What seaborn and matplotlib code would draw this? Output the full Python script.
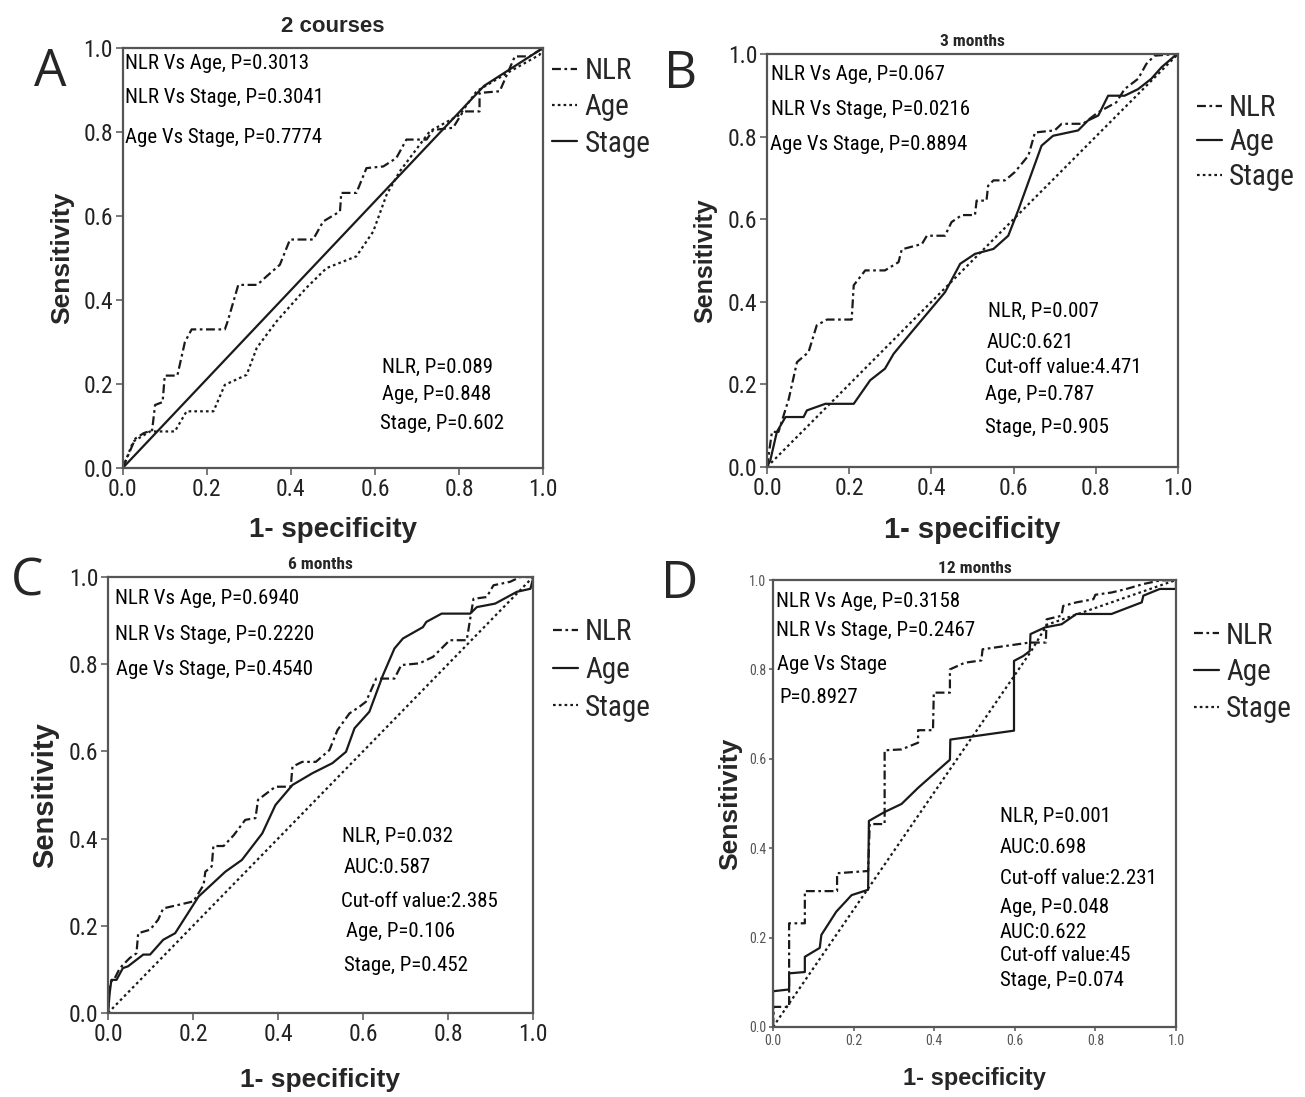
import numpy as np
import pandas as pd
import matplotlib
matplotlib.use("Agg")
import matplotlib.pyplot as plt
import seaborn as sns
from matplotlib import font_manager as fm

# ---------------- data ----------------
# Panel A: 2 courses
a_nlr_x = [0, 0.03, 0.05, 0.07, 0.077, 0.095, 0.10, 0.13, 0.148, 0.164, 0.243, 0.25, 0.275, 0.32, 0.342, 0.374, 0.398, 0.453, 0.477, 0.517, 0.52, 0.556, 0.58, 0.62, 0.651, 0.675, 0.723, 0.739, 0.786, 0.81, 0.849, 0.849, 0.897, 0.933, 0.968, 1.0]
a_nlr_y = [0, 0.07, 0.083, 0.09, 0.15, 0.157, 0.22, 0.22, 0.30, 0.33, 0.33, 0.35, 0.436, 0.436, 0.456, 0.484, 0.544, 0.544, 0.587, 0.611, 0.655, 0.655, 0.714, 0.718, 0.738, 0.782, 0.782, 0.805, 0.81, 0.849, 0.849, 0.893, 0.897, 0.98, 0.98, 1.0]
a_age_x = [0, 0.025, 0.065, 0.124, 0.152, 0.216, 0.243, 0.295, 0.319, 0.366, 0.437, 0.485, 0.556, 0.596, 0.628, 0.659, 0.731, 0.802, 0.842, 0.921, 0.992, 1.0]
a_age_y = [0, 0.063, 0.087, 0.087, 0.135, 0.135, 0.198, 0.222, 0.286, 0.349, 0.429, 0.476, 0.504, 0.563, 0.651, 0.706, 0.802, 0.841, 0.897, 0.944, 0.984, 1.0]
a_stage_x = [0, 0.86, 1.0]
a_stage_y = [0, 0.91, 1.0]

# Panel B: 3 months
b_nlr_x = [0, 0.012, 0.028, 0.053, 0.073, 0.101, 0.121, 0.146, 0.206, 0.211, 0.239, 0.287, 0.32, 0.328, 0.377, 0.389, 0.433, 0.449, 0.474, 0.506, 0.51, 0.534, 0.538, 0.551, 0.579, 0.603, 0.636, 0.652, 0.70, 0.717, 0.769, 0.806, 0.85, 0.87, 0.903, 0.923, 0.943, 1.0]
b_nlr_y = [0, 0.085, 0.085, 0.165, 0.254, 0.278, 0.343, 0.357, 0.357, 0.44, 0.476, 0.476, 0.496, 0.527, 0.54, 0.56, 0.56, 0.593, 0.61, 0.61, 0.645, 0.645, 0.681, 0.694, 0.694, 0.714, 0.754, 0.81, 0.815, 0.831, 0.831, 0.859, 0.883, 0.915, 0.94, 0.976, 0.996, 1.0]
b_age_x = [0, 0.008, 0.024, 0.045, 0.089, 0.097, 0.142, 0.211, 0.251, 0.287, 0.308, 0.352, 0.433, 0.47, 0.506, 0.551, 0.587, 0.611, 0.668, 0.696, 0.757, 0.781, 0.806, 0.83, 0.87, 0.903, 0.935, 0.96, 0.988, 1.0]
b_age_y = [0, 0.016, 0.085, 0.121, 0.121, 0.137, 0.153, 0.153, 0.21, 0.238, 0.274, 0.327, 0.423, 0.492, 0.516, 0.528, 0.56, 0.621, 0.778, 0.802, 0.815, 0.839, 0.851, 0.899, 0.899, 0.915, 0.94, 0.968, 0.992, 1.0]
b_stage_x = [0, 1.0]
b_stage_y = [0, 1.0]

# Panel C: 6 months
c_nlr_x = [0, 0.004, 0.016, 0.028, 0.051, 0.067, 0.071, 0.099, 0.118, 0.13, 0.166, 0.201, 0.213, 0.225, 0.229, 0.244, 0.248, 0.272, 0.296, 0.323, 0.347, 0.353, 0.394, 0.43, 0.434, 0.457, 0.489, 0.521, 0.54, 0.568, 0.591, 0.607, 0.631, 0.674, 0.69, 0.733, 0.765, 0.804, 0.844, 0.86, 0.891, 0.907, 0.946, 0.97, 1.0]
c_nlr_y = [0, 0.069, 0.08, 0.103, 0.126, 0.137, 0.183, 0.191, 0.214, 0.24, 0.248, 0.256, 0.275, 0.294, 0.324, 0.336, 0.383, 0.383, 0.408, 0.443, 0.447, 0.489, 0.519, 0.519, 0.565, 0.576, 0.576, 0.603, 0.649, 0.687, 0.702, 0.714, 0.767, 0.767, 0.798, 0.802, 0.817, 0.855, 0.855, 0.95, 0.954, 0.981, 0.989, 1.0, 1.0]
c_age_x = [0, 0.004, 0.008, 0.02, 0.035, 0.047, 0.083, 0.099, 0.13, 0.158, 0.213, 0.276, 0.315, 0.363, 0.394, 0.434, 0.481, 0.528, 0.56, 0.58, 0.615, 0.647, 0.674, 0.694, 0.741, 0.749, 0.785, 0.852, 0.868, 0.911, 0.962, 0.994, 1.0, 1.0]
c_age_y = [0, 0.046, 0.076, 0.076, 0.103, 0.107, 0.134, 0.134, 0.168, 0.183, 0.267, 0.324, 0.351, 0.412, 0.477, 0.523, 0.55, 0.573, 0.599, 0.653, 0.691, 0.775, 0.836, 0.859, 0.885, 0.897, 0.916, 0.916, 0.931, 0.939, 0.966, 0.973, 0.996, 1.0]
c_stage_x = [0, 1.0]
c_stage_y = [0, 1.0]

# Panel D: 12 months
d_nlr_x = [0, 0.002, 0.04, 0.04, 0.079, 0.079, 0.159, 0.159, 0.236, 0.24, 0.277, 0.277, 0.319, 0.36, 0.36, 0.397, 0.399, 0.439, 0.439, 0.476, 0.517, 0.52, 0.636, 0.677, 0.679, 0.716, 0.72, 0.753, 0.795, 0.80, 0.84, 0.877, 0.919, 0.96, 1.0]
d_nlr_y = [0, 0.045, 0.045, 0.232, 0.232, 0.304, 0.304, 0.344, 0.349, 0.454, 0.454, 0.619, 0.621, 0.636, 0.664, 0.664, 0.748, 0.748, 0.80, 0.815, 0.82, 0.845, 0.86, 0.86, 0.912, 0.92, 0.942, 0.95, 0.957, 0.967, 0.972, 0.98, 0.991, 0.999, 1.0]
d_age_x = [0, 0, 0.04, 0.04, 0.079, 0.079, 0.116, 0.12, 0.157, 0.195, 0.236, 0.238, 0.277, 0.319, 0.36, 0.439, 0.44, 0.598, 0.598, 0.621, 0.637, 0.639, 0.675, 0.716, 0.753, 0.84, 0.915, 0.919, 0.96, 1.0, 1.0]
d_age_y = [0, 0.08, 0.084, 0.12, 0.123, 0.157, 0.177, 0.206, 0.258, 0.295, 0.307, 0.461, 0.481, 0.499, 0.535, 0.598, 0.643, 0.663, 0.819, 0.83, 0.841, 0.879, 0.894, 0.901, 0.924, 0.924, 0.95, 0.965, 0.98, 0.98, 1.0]
d_stage_x = [0, 0.64, 0.68, 1.0]
d_stage_y = [0, 0.84, 0.90, 1.0]

series_names = ["NLR", "Age", "Stage"]
panel_letters = ["A", "B", "C", "D"]
panel_titles = ["2 courses", "3 months", "6 months", "12 months"]
tick_values = [0.0, 0.2, 0.4, 0.6, 0.8, 1.0]
tick_labels = ["0.0", "0.2", "0.4", "0.6", "0.8", "1.0"]

a_top_text = ["NLR Vs Age, P=0.3013", "NLR Vs Stage, P=0.3041", "Age Vs Stage, P=0.7774"]
a_bottom_text = ["NLR, P=0.089", "Age, P=0.848", "Stage, P=0.602"]
b_top_text = ["NLR Vs Age, P=0.067", "NLR Vs Stage, P=0.0216", "Age Vs Stage, P=0.8894"]
b_bottom_text = ["NLR, P=0.007", "AUC:0.621", "Cut-off value:4.471", "Age, P=0.787", "Stage, P=0.905"]
c_top_text = ["NLR Vs Age, P=0.6940", "NLR Vs Stage, P=0.2220", "Age Vs Stage, P=0.4540"]
c_bottom_text = ["NLR, P=0.032", "AUC:0.587", "Cut-off value:2.385", "Age, P=0.106", "Stage, P=0.452"]
d_top_text = ["NLR Vs Age, P=0.3158", "NLR Vs Stage, P=0.2467", "Age Vs Stage", "P=0.8927"]
d_bottom_text = ["NLR, P=0.001", "AUC:0.698", "Cut-off value:2.231", "Age, P=0.048", "AUC:0.622", "Cut-off value:45", "Stage, P=0.074"]

# ---------------- style ----------------
sns.set_theme(style="ticks")

installed = {f.name for f in fm.fontManager.ttflist}
narrow_candidates = ["Liberation Sans Narrow", "Roboto Condensed", "Open Sans Condensed", "Noto Sans Condensed"]
narrow_found = [n for n in narrow_candidates if n in installed]
if narrow_found:
    NARROW = [narrow_found[0], "DejaVu Sans"]
    NSCALE = 1.0
else:
    NARROW = ["Roboto", "Liberation Sans", "DejaVu Sans"]
    NSCALE = 0.88
BOLD = ["Liberation Sans", "DejaVu Sans"]
plt.rcParams["font.family"] = ["Liberation Sans", "DejaVu Sans"]

W, H = 1305, 1097
fig = plt.figure(figsize=(W / 100, H / 100), dpi=100)
fig.patch.set_facecolor("white")

def frac(l, r, t, b):
    return [l / W, 1 - b / H, (r - l) / W, (b - t) / H]

axes_px = [
    (122.7, 543, 48, 468),
    (767, 1178, 54, 467),
    (108, 533, 577, 1013),
    (773, 1176, 580, 1027),
]

DASHDOT = (4, 1.6, 1.2, 1.6)
DOTTED = (1.2, 1.4)
SOLID = ""

panels = [
    dict(curves=[(a_nlr_x, a_nlr_y), (a_age_x, a_age_y), (a_stage_x, a_stage_y)],
         styles=[DASHDOT, DOTTED, SOLID],
         top=a_top_text, top_pos=[(0.005, 0.964), (0.005, 0.881), (0.005, 0.788)],
         bot=a_bottom_text, bot_pos=[(0.617, 0.24), (0.617, 0.174), (0.612, 0.107)],
         tick_fs=17, title_fs=16, title_narrow=False, title_y=1.025,
         xl_fs=20, yl_fs=19, legend_anchor=(1.022, 0.978), letter_xy=(50, 72),
         xlabel_y=530, ylabel_x=62),
    dict(curves=[(b_nlr_x, b_nlr_y), (b_age_x, b_age_y), (b_stage_x, b_stage_y)],
         styles=[DASHDOT, SOLID, DOTTED],
         top=b_top_text, top_pos=[(0.01, 0.95), (0.01, 0.866), (0.008, 0.781)],
         bot=b_bottom_text, bot_pos=[(0.538, 0.376), (0.535, 0.301), (0.53, 0.24), (0.53, 0.175), (0.53, 0.095)],
         tick_fs=17, title_fs=12.5, title_narrow=True, title_y=1.012,
         xl_fs=21, yl_fs=18, legend_anchor=(1.046, 0.903), letter_xy=(681, 74),
         xlabel_y=530, ylabel_x=705),
    dict(curves=[(c_nlr_x, c_nlr_y), (c_age_x, c_age_y), (c_stage_x, c_stage_y)],
         styles=[DASHDOT, SOLID, DOTTED],
         top=c_top_text, top_pos=[(0.016, 0.95), (0.016, 0.867), (0.02, 0.787)],
         bot=c_bottom_text, bot_pos=[(0.55, 0.404), (0.555, 0.333), (0.548, 0.255), (0.56, 0.186), (0.555, 0.108)],
         tick_fs=17, title_fs=12.5, title_narrow=True, title_y=1.012,
         xl_fs=19, yl_fs=21, legend_anchor=(1.047, 0.905), letter_xy=(27, 582),
         xlabel_y=1080, ylabel_x=45),
    dict(curves=[(d_nlr_x, d_nlr_y), (d_age_x, d_age_y), (d_stage_x, d_stage_y)],
         styles=[DASHDOT, SOLID, DOTTED],
         top=d_top_text, top_pos=[(0.007, 0.953), (0.007, 0.886), (0.01, 0.812), (0.017, 0.738)],
         bot=d_bottom_text, bot_pos=[(0.563, 0.471), (0.563, 0.401), (0.563, 0.332), (0.563, 0.267), (0.563, 0.211), (0.563, 0.161), (0.563, 0.105)],
         tick_fs=10, title_fs=12.5, title_narrow=True, title_y=1.008,
         xl_fs=17, yl_fs=19, legend_anchor=(1.045, 0.907), letter_xy=(680, 584),
         xlabel_y=1078, ylabel_x=730),
]
legend_spacing = [0.28, 0.22, 0.33, 0.3]

LINE_COLOR = "#1a1a1a"
SPINE_COLOR = "#555555"

for i, (p, px) in enumerate(zip(panels, axes_px)):
    ax = fig.add_axes(frac(*px))
    frames = []
    for name, (xs, ys) in zip(series_names, p["curves"]):
        frames.append(pd.DataFrame({"fpr": xs, "tpr": ys, "Series": name}))
    df = pd.concat(frames, ignore_index=True)
    sns.lineplot(data=df, x="fpr", y="tpr", hue="Series", style="Series",
                 palette={n: LINE_COLOR for n in series_names},
                 dashes={n: s for n, s in zip(series_names, p["styles"])},
                 sort=False, estimator=None, linewidth=1.6, ax=ax, legend=True)
    ax.set_xlim(0, 1)
    ax.set_ylim(0, 1)
    ax.set_xticks(tick_values)
    ax.set_yticks(tick_values)
    ax.set_xticklabels(tick_labels, family=NARROW, fontsize=p["tick_fs"] * NSCALE)
    ax.set_yticklabels(tick_labels, family=NARROW, fontsize=p["tick_fs"] * NSCALE)
    tl = 5 if i < 3 else 3
    ax.tick_params(axis="both", direction="out", length=tl, width=1.1, color=SPINE_COLOR,
                   pad=2, labelcolor="#222222" if i < 3 else "#555555")
    for sp in ax.spines.values():
        sp.set_visible(True)
        sp.set_color(SPINE_COLOR)
        sp.set_linewidth(1.6)
    ax.set_xlabel("")
    ax.set_ylabel("")
    l, r, t, b = px
    fig.text(((l + r) / 2) / W, 1 - p["xlabel_y"] / H, "1- specificity", ha="center", va="center",
             fontsize=p["xl_fs"], fontweight="bold", family=BOLD)
    fig.text(p["ylabel_x"] / W, 1 - ((t + b) / 2) / H, "Sensitivity", ha="center", va="center",
             rotation=90, fontsize=p["yl_fs"], fontweight="bold", family=BOLD)
    ax.text(0.5, p["title_y"], panel_titles[i], transform=ax.transAxes, ha="center", va="bottom",
            fontsize=p["title_fs"] * (NSCALE if p["title_narrow"] else 1.0), fontweight="bold",
            family=NARROW if p["title_narrow"] else BOLD)
    fig.text(p["letter_xy"][0] / W, 1 - p["letter_xy"][1] / H, panel_letters[i], ha="center", va="center",
             fontsize=37, family=["Open Sans", "DejaVu Sans"])
    for s, (x, y) in zip(p["top"], p["top_pos"]):
        ax.text(x, y, s, ha="left", va="center", fontsize=15 * NSCALE, family=NARROW, color="#000000")
    for s, (x, y) in zip(p["bot"], p["bot_pos"]):
        ax.text(x, y, s, ha="left", va="center", fontsize=15 * NSCALE, family=NARROW, color="#000000")
    handles, labels = ax.get_legend_handles_labels()
    ax.legend(handles, labels, loc="upper left", bbox_to_anchor=p["legend_anchor"],
              frameon=False, handlelength=0.86, handletextpad=0.24, labelspacing=legend_spacing[i],
              borderaxespad=0.0, borderpad=0.0, prop={"family": NARROW, "size": 21 * NSCALE})

fig.savefig("out.png", dpi=100, facecolor="white")
